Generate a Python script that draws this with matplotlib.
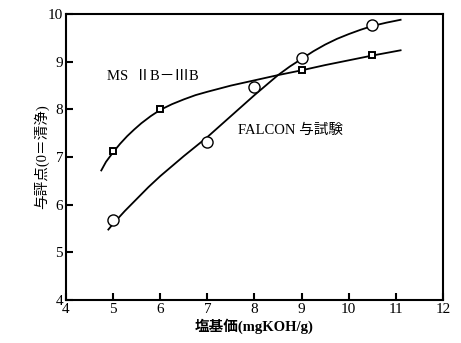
import matplotlib
matplotlib.use("Agg")
import matplotlib.pyplot as plt

# Data points
ms_x = [5, 6, 9, 10.5]
ms_y = [7.12, 8.0, 8.82, 9.14]
falcon_x = [5, 7, 8, 9, 10.5]
falcon_y = [5.68, 7.32, 8.48, 9.08, 9.77]

# Hand-drawn curves
ms_curve_x = [4.75, 4.85, 5.0, 5.15, 5.3, 5.45, 5.6, 5.8, 6.0, 6.25, 6.5, 6.75, 7.0, 7.5,
              8.0, 8.5, 9.0, 9.5, 10.0, 10.5, 11.1]
ms_curve_y = [6.72, 6.9, 7.1, 7.28, 7.44, 7.58, 7.71, 7.86, 7.99, 8.11, 8.21, 8.3, 8.37, 8.5,
              8.61, 8.72, 8.82, 8.93, 9.03, 9.13, 9.24]
falcon_curve_x = [4.9, 5.0, 5.25, 5.5, 5.75, 6.0, 6.5, 7.0, 7.5, 8.0, 8.5, 8.75, 9.0, 9.25,
                  9.5, 9.75, 10.0, 10.25, 10.5, 10.8, 11.1]
falcon_curve_y = [5.48, 5.6, 5.87, 6.12, 6.37, 6.6, 7.02, 7.42, 7.86, 8.3, 8.72, 8.9, 9.06, 9.22,
                  9.36, 9.48, 9.58, 9.67, 9.75, 9.82, 9.88]

x_ticks = [4, 5, 6, 7, 8, 9, 10, 11, 12]
y_ticks = [4, 5, 6, 7, 8, 9, 10]

serif = ["Liberation Serif", "Noto Sans CJK JP"]
cjk = ["Liberation Serif", "Noto Sans CJK JP"]

fig = plt.figure(figsize=(4.61, 3.43), dpi=100)
ax = fig.add_axes([0.143, 0.125, 0.818, 0.834])

ax.plot(ms_curve_x, ms_curve_y, color="black", lw=1.3, zorder=2)
ax.plot(falcon_curve_x, falcon_curve_y, color="black", lw=1.3, zorder=2)
ax.plot(ms_x, ms_y, ls="none", marker="s", ms=5, mfc="white", mec="black", mew=1.4, zorder=3)
ax.plot(falcon_x, falcon_y, ls="none", marker="o", ms=8, mfc="white", mec="black", mew=1.0, zorder=3)

ax.set_xlim(4, 12)
ax.set_ylim(4, 10)
ax.set_xticks(x_ticks)
ax.set_yticks(y_ticks)
ax.set_xticklabels([str(v) for v in x_ticks], family=serif, fontsize=11)
ax.set_yticklabels([str(v) for v in y_ticks], family=serif, fontsize=11)
ax.tick_params(direction="in", length=5, width=1.5, pad=2)
for s in ax.spines.values():
    s.set_linewidth(1.5)

ax.set_xlabel("塩基価(mgKOH/g)", family=cjk, fontsize=10.5, fontweight="bold")
ax.set_ylabel("与評点(0＝清浄)", family=cjk, fontsize=10.5)
ax.xaxis.set_label_coords(0.5, -0.065)
ax.yaxis.set_label_coords(-0.045, 0.5)

ax.text(4.87, 8.68, "MS  ⅡB－ⅢB", family=cjk, fontsize=10.5, va="center")
ax.text(7.65, 7.57, "FALCON 与試験", family=cjk, fontsize=10.5, va="center")

fig.savefig("out.png", dpi=100)
